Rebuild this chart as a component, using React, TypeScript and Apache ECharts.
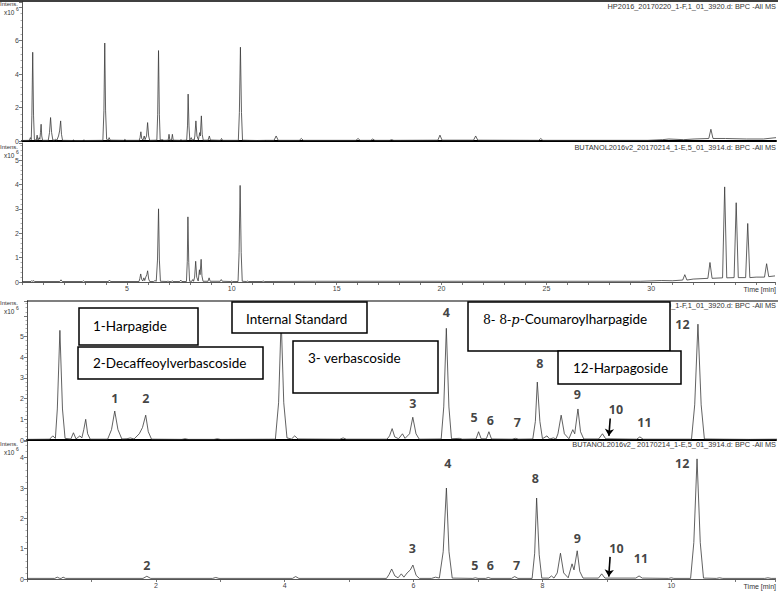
import React, { useEffect, useRef } from 'react';
import * as echarts from 'echarts';

// Base peak chromatogram of the HP2016 extract: [time (min), intensity (x10^6)]
const hpTrace: [number, number][] = [
  [0, 0.03], [0.35, 0.04], [0.4, 0.2], [0.44, 0.08], [0.47, 1.5], [0.51, 5.3], [0.55, 1.5], [0.59, 0.08],
  [0.68, 0.05], [0.72, 0.35], [0.76, 0.05], [0.82, 0.2], [0.85, 0.1], [0.88, 0.5], [0.91, 1.0], [0.94, 0.3], [0.98, 0.04],
  [1.25, 0.04], [1.31, 0.5], [1.36, 1.4], [1.41, 0.5], [1.47, 0.05],
  [1.55, 0.06], [1.6, 0.1], [1.66, 0.05], [1.74, 0.3], [1.79, 0.6], [1.84, 1.2], [1.88, 0.4], [1.93, 0.04],
  [2.4, 0.03], [2.45, 0.06], [2.5, 0.03], [2.9, 0.03], [2.95, 0.06], [3.0, 0.03],
  [3.85, 0.04], [3.9, 1.8], [3.94, 5.85], [3.98, 1.8], [4.03, 0.1], [4.1, 0.05], [4.15, 0.2], [4.2, 0.05],
  [4.85, 0.04], [4.9, 0.1], [4.95, 0.04],
  [5.58, 0.04], [5.62, 0.2], [5.66, 0.55], [5.7, 0.15], [5.76, 0.06], [5.82, 0.3], [5.86, 0.08], [5.93, 0.3], [5.98, 1.1], [6.03, 0.3], [6.08, 0.04],
  [6.42, 0.05], [6.46, 1.6], [6.5, 5.4], [6.54, 1.6], [6.58, 0.06],
  [6.7, 0.08], [6.75, 0.04],
  [6.96, 0.05], [7.0, 0.4], [7.04, 0.06], [7.12, 0.06], [7.16, 0.4], [7.2, 0.05],
  [7.52, 0.04], [7.57, 0.08], [7.62, 0.04],
  [7.84, 0.05], [7.88, 0.9], [7.91, 2.8], [7.95, 0.9], [7.99, 0.06], [8.06, 0.2], [8.1, 0.05], [8.16, 0.1], [8.2, 0.05],
  [8.23, 0.3], [8.28, 1.2], [8.33, 0.3], [8.4, 0.06], [8.46, 0.5], [8.49, 0.3], [8.54, 1.5], [8.58, 0.4], [8.63, 0.05],
  [8.86, 0.05], [8.92, 0.3], [8.97, 0.06],
  [9.45, 0.04], [9.5, 0.15], [9.55, 0.04],
  [10.3, 0.04], [10.35, 1.7], [10.4, 5.6], [10.45, 1.7], [10.5, 0.05],
  [10.8, 0.04], [11.2, 0.03], [11.6, 0.04],
  [12.0, 0.04], [12.1, 0.3], [12.2, 0.04], [13.2, 0.04], [13.3, 0.15], [13.4, 0.04],
  [15.9, 0.04], [16.0, 0.15], [16.1, 0.04], [16.6, 0.04], [16.7, 0.12], [16.8, 0.04],
  [17.5, 0.04], [17.6, 0.08], [17.7, 0.04], [19.8, 0.05], [19.9, 0.35], [20.0, 0.05],
  [21.5, 0.05], [21.6, 0.3], [21.7, 0.05], [24.6, 0.04], [24.7, 0.15], [24.8, 0.04],
  [29.8, 0.04], [30.5, 0.08], [30.8, 0.12], [31.5, 0.08], [32.0, 0.12], [32.7, 0.15], [32.8, 0.7], [32.9, 0.15],
  [33.5, 0.15], [34.5, 0.12], [35.3, 0.12], [35.9, 0.2],
];

// Base peak chromatogram of the BUTANOL2016v2 extract
const buTrace: [number, number][] = [
  [0, 0.02], [0.43, 0.02], [0.47, 0.06], [0.51, 0.02], [0.53, 0.02], [0.56, 0.06], [0.6, 0.02],
  [1.8, 0.02], [1.86, 0.09], [1.92, 0.02],
  [2.88, 0.02], [2.93, 0.05], [2.98, 0.02],
  [4.12, 0.02], [4.17, 0.08], [4.22, 0.02],
  [5.58, 0.02], [5.62, 0.15], [5.66, 0.33], [5.71, 0.1], [5.76, 0.04], [5.81, 0.17], [5.85, 0.06], [5.9, 0.2], [5.95, 0.3], [5.99, 0.46], [6.04, 0.12], [6.09, 0.02],
  [6.28, 0.02], [6.34, 0.06], [6.4, 0.03], [6.46, 0.9], [6.51, 3.0], [6.55, 0.9], [6.6, 0.03],
  [6.92, 0.02], [6.96, 0.04], [7.0, 0.02], [7.12, 0.02], [7.16, 0.05], [7.2, 0.02], [7.52, 0.02], [7.57, 0.08], [7.62, 0.02],
  [7.84, 0.02], [7.88, 0.85], [7.91, 2.67], [7.95, 0.8], [7.99, 0.03], [8.1, 0.03], [8.14, 0.1], [8.18, 0.03],
  [8.23, 0.2], [8.28, 0.85], [8.33, 0.2], [8.4, 0.04], [8.46, 0.5], [8.49, 0.3], [8.54, 0.93], [8.58, 0.25], [8.63, 0.03],
  [8.87, 0.03], [8.92, 0.17], [8.97, 0.03],
  [9.45, 0.03], [9.5, 0.1], [9.55, 0.03],
  [9.96, 0.02], [10.0, 0.04], [10.04, 0.02],
  [10.3, 0.02], [10.35, 1.2], [10.4, 3.96], [10.45, 1.2], [10.5, 0.03],
  [10.7, 0.02], [10.75, 0.04], [10.8, 0.02], [11.45, 0.02], [11.5, 0.04], [11.55, 0.02],
  [14.0, 0.03], [20.0, 0.03], [26.0, 0.03], [29.5, 0.03], [30.5, 0.06], [31.0, 0.05], [31.5, 0.08], [31.6, 0.3], [31.7, 0.08],
  [32.0, 0.12], [32.7, 0.15], [32.8, 0.8], [32.9, 0.15], [33.4, 0.17], [33.5, 3.9], [33.6, 0.17],
  [33.95, 0.18], [34.05, 3.25], [34.15, 0.18], [34.5, 0.18], [34.6, 2.4], [34.7, 0.18],
  [35.0, 0.2], [35.4, 0.2], [35.5, 0.75], [35.6, 0.22], [35.9, 0.25],
];

// Peak numbers: [time, intensity position, label]
const hpPeakLabels: [number, number, string][] = [
  [1.36, 2.0, '1'], [1.84, 2.0, '2'], [5.98, 1.77, '3'], [6.5, 6.14, '4'], [6.93, 1.09, '5'], [7.18, 0.95, '6'],
  [7.6, 0.85, '7'], [7.95, 3.71, '8'], [8.53, 2.2, '9'], [9.13, 1.48, '10'], [9.57, 0.85, '11'], [10.16, 5.6, '12'],
];
const buPeakLabels: [number, number, string][] = [
  [1.86, 0.46, '2'], [5.98, 1.02, '3'], [6.53, 3.8, '4'], [6.95, 0.43, '5'], [7.19, 0.46, '6'], [7.6, 0.46, '7'],
  [7.89, 3.33, '8'], [8.54, 1.35, '9'], [9.15, 1.02, '10'], [9.53, 0.69, '11'], [10.17, 3.8, '12'],
];
// Arrow to peak 10: [start, end]
const hpArrow: [number, number][] = [[9.04, 1.04], [9.02, 0.2]];
const buArrow: [number, number][] = [[9.05, 0.73], [9.03, 0.08]];

const hpTitle = 'HP2016_20170220_1-F,1_01_3920.d: BPC -All MS';
const buTitle = 'BUTANOL2016v2_20170214_1-E,5_01_3914.d: BPC -All MS';
const buTitle2 = 'BUTANOL2016v2_ 20170214_1-E,5_01_3914.d: BPC -All MS';
const compoundNames = ['1-Harpagide', '2-Decaffeoylverbascoside', 'Internal Standard', '3- verbascoside', '12-Harpagoside'];

const TICKFONT = 'Liberation Sans';

function xAxisCfg(gridIndex: number, max: number, labelEvery: number, showLabels: boolean, thick: boolean, lastLabel: number) {
  return {
    type: 'value', gridIndex, min: 0, max, interval: 1,
    axisLine: { show: true, onZero: false, lineStyle: { color: thick ? '#000' : '#555', width: thick ? 2 : 1 } },
    axisTick: { show: showLabels, length: 3, lineStyle: { color: '#555', width: 0.8 } },
    minorTick: { show: false },
    axisLabel: {
      show: showLabels, fontSize: 7, color: '#444', margin: 3, fontFamily: TICKFONT,
      formatter: (v: number) => (v > 0 && v <= lastLabel && Math.abs(v / labelEvery - Math.round(v / labelEvery)) < 1e-6 ? String(v) : ''),
    },
    splitLine: { show: false },
  };
}

function yAxisCfg(gridIndex: number, max: number, interval: number, lastLabel: number) {
  return {
    type: 'value', gridIndex, min: 0, max, interval,
    axisLine: { show: true, lineStyle: { color: '#555', width: 1 } },
    axisTick: { show: true, length: 3, lineStyle: { color: '#555', width: 0.8 } },
    minorTick: { show: true, splitNumber: 5, length: 1.5, lineStyle: { color: '#777', width: 0.6 } },
    axisLabel: {
      fontSize: 7, color: '#444', margin: 3, fontFamily: TICKFONT,
      formatter: (v: number) => (v <= lastLabel && Math.abs(v / interval - Math.round(v / interval)) < 1e-6 ? String(v) : ''),
    },
    splitLine: { show: false },
  };
}

function traceSeries(idx: number, data: [number, number][]) {
  return {
    type: 'line', xAxisIndex: idx, yAxisIndex: idx, data, symbol: 'none', showSymbol: false,
    lineStyle: { color: '#3a3a3a', width: 0.8 }, clip: true, silent: true, z: 2,
  };
}

function labelSeries(idx: number, labels: [number, number, string][], arrow: [number, number][]) {
  return {
    type: 'scatter', xAxisIndex: idx, yAxisIndex: idx, symbolSize: 0, silent: true, z: 5,
    data: labels.map(([t, y, s]) => ({ value: [t, y], name: s })),
    label: {
      show: true, position: 'inside', formatter: '{b}', fontFamily: 'Open Sans', fontWeight: 'bold', fontSize: 12.5, color: '#111',
    },
    markLine: {
      silent: true, symbol: ['none', 'arrow'], symbolSize: 7, animation: false,
      lineStyle: { color: '#000', width: 1.6, type: 'solid' }, label: { show: false },
      data: [[{ coord: arrow[0] }, { coord: arrow[1] }]],
    },
  };
}

function txt(x: number, y: number, text: string, font: string, align = 'left', extra: any = {}) {
  return {
    type: 'text', x, y, z: 100, silent: true,
    style: { text, font, fill: '#333', align, verticalAlign: 'middle', textAlign: align, textVerticalAlign: 'middle', ...extra },
  };
}

function intensLabel(y: number) {
  return [
    txt(0, y, 'Intens.', '6px Liberation Sans'),
    txt(4, y + 8, 'x10', '6.5px Liberation Sans'),
    txt(16, y + 5, '6', '5px Liberation Sans'),
  ];
}

function box(x: number, y: number, w: number, h: number) {
  return { type: 'rect', z: 100, silent: true, shape: { x, y, width: w, height: h }, style: { fill: '#fff', stroke: '#000', lineWidth: 1.5 } };
}

export default function App() {
  const ref = useRef<HTMLDivElement>(null);
  useEffect(() => {
    if (!ref.current) return;
    const chart = echarts.init(ref.current, undefined, { renderer: 'svg' });
    const boxFont = '13.5px Lato';
    const titleFont = '7.4px Liberation Sans';
    const option: any = {
      animation: false,
      backgroundColor: '#fff',
      grid: [
        { left: 22, right: 2, top: 2, bottom: 450 },
        { left: 22, right: 2, top: 143, bottom: 309 },
        { left: 27, right: 2, top: 301, bottom: 151 },
        { left: 27, right: 2, top: 441, bottom: 12 },
      ],
      xAxis: [
        xAxisCfg(0, 35.9, 5, false, true, 30),
        xAxisCfg(1, 35.9, 5, true, false, 30),
        xAxisCfg(2, 11.61, 2, false, true, 10),
        xAxisCfg(3, 11.61, 2, true, false, 10),
      ],
      yAxis: [
        yAxisCfg(0, 8.3, 2, 6),
        yAxisCfg(1, 5.7, 1, 5),
        yAxisCfg(2, 6.72, 1, 5),
        yAxisCfg(3, 4.55, 1, 4),
      ],
      series: [
        traceSeries(0, hpTrace),
        traceSeries(1, buTrace),
        traceSeries(2, hpTrace),
        traceSeries(3, buTrace),
        labelSeries(2, hpPeakLabels, hpArrow),
        labelSeries(3, buPeakLabels, buArrow),
      ],
      graphic: [
        { type: 'line', z: 100, silent: true, shape: { x1: 0, y1: 1, x2: 778, y2: 1 }, style: { stroke: '#000', lineWidth: 1.5 } },
        { type: 'line', z: 100, silent: true, shape: { x1: 27, y1: 301, x2: 778, y2: 301 }, style: { stroke: '#000', lineWidth: 1.2 } },
        ...intensLabel(4),
        ...intensLabel(147),
        ...intensLabel(303),
        ...intensLabel(444),
        txt(776, 6, hpTitle, titleFont, 'right'),
        txt(776, 147, buTitle, titleFont, 'right'),
        txt(776, 305, hpTitle, titleFont, 'right'),
        txt(776, 444, buTitle2, titleFont, 'right'),
        txt(776, 289, 'Time [min]', '7px Liberation Sans', 'right'),
        txt(776, 586, 'Time [min]', '7px Liberation Sans', 'right'),
        box(79, 308, 119, 37),
        txt(93, 326, compoundNames[0], boxFont, 'left', { fill: '#000' }),
        box(78, 347, 185, 32),
        txt(93, 363, compoundNames[1], boxFont, 'left', { fill: '#000' }),
        box(232, 302, 135, 31),
        txt(246, 319, compoundNames[2], boxFont, 'left', { fill: '#000' }),
        box(293, 341, 145, 52),
        txt(308, 358, compoundNames[3], boxFont, 'left', { fill: '#000' }),
        box(468, 302, 202, 49),
        {
          type: 'text', x: 483, y: 319, z: 101, silent: true,
          style: {
            text: '{s|8- 8-}{p|p}{c|-Coumaroylharpagide}',
            align: 'left', verticalAlign: 'middle', textAlign: 'left', textVerticalAlign: 'middle',
            rich: {
              s: { fontFamily: 'DejaVu Serif', fontSize: 12.5, fill: '#000', color: '#000' },
              p: { fontFamily: 'DejaVu Serif', fontStyle: 'italic', fontSize: 13, fill: '#000', color: '#000' },
              c: { fontFamily: 'Lato', fontSize: 13.5, fill: '#000', color: '#000' },
            },
          },
        },
        box(558, 351, 123, 33),
        txt(573, 368, compoundNames[4], boxFont, 'left', { fill: '#000' }),
      ],
    };
    chart.setOption(option);
    return () => chart.dispose();
  }, []);
  return <div ref={ref} style={{ position: 'absolute', left: 0, top: 0, width: 778, height: 591, background: '#fff' }} />;
}
